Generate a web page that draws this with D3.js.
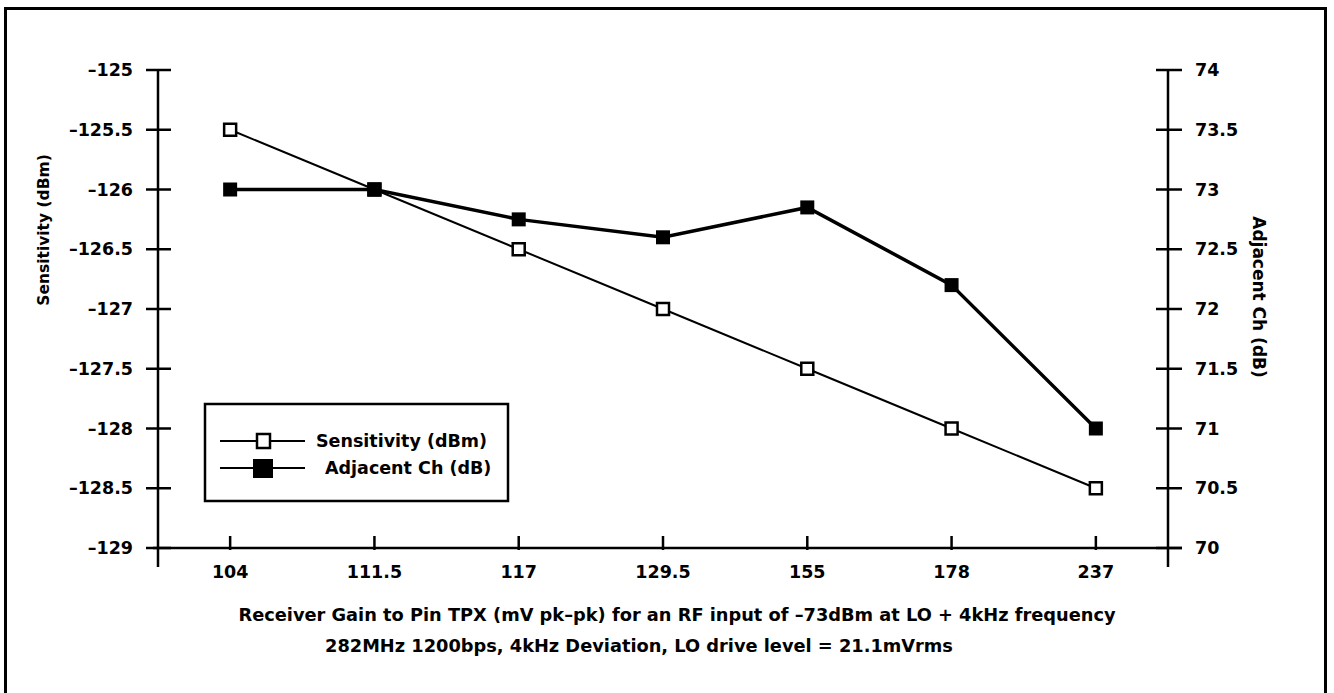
<!DOCTYPE html>
<html>
<head>
<meta charset="utf-8">
<script src="https://cdn.jsdelivr.net/npm/d3@7"></script>
<style>
  body { margin: 0; background: #fff; }
  text { font-family: "DejaVu Sans", "Liberation Sans", Arial, sans-serif; font-weight: bold; fill: #000; }
</style>
</head>
<body>
<script>
var width = 1334,
    height = 693;

// data
var gains = ["104", "111.5", "117", "129.5", "155", "178", "237"];
var sensitivity = [-125.5, -126, -126.5, -127, -127.5, -128, -128.5];
var adjacentCh = [73, 73, 72.75, 72.6, 72.85, 72.2, 71];
var leftTicks = [-129, -128.5, -128, -127.5, -127, -126.5, -126, -125.5, -125];
var rightTicks = [70, 70.5, 71, 71.5, 72, 72.5, 73, 73.5, 74];

var x0 = 158, x1 = 1168, yTop = 70, yBot = 548;

var svg = d3.select("body").append("svg")
    .attr("width", width)
    .attr("height", height);

// frame (bottom edge runs off the page)
svg.append("rect")
    .attr("x", 5.5).attr("y", 8.5)
    .attr("width", 1320).attr("height", 700)
    .attr("fill", "none").attr("stroke", "#000").attr("stroke-width", 3);

var x = d3.scalePoint().domain(gains).range([x0, x1]).padding(0.5);
var yL = d3.scaleLinear().domain([-129, -125]).range([yBot, yTop]);
var yR = d3.scaleLinear().domain([70, 74]).range([yBot, yTop]);

function fmt(d) { return d < 0 ? "\u2013" + Math.abs(d) : String(d); }

// left axis
var gl = svg.append("g").attr("transform", "translate(" + x0 + ",0)");
gl.append("line").attr("y1", yTop).attr("y2", yBot + 19)
    .attr("stroke", "#000").attr("stroke-width", 2.5);
gl.selectAll(".t").data(leftTicks).enter().append("line")
    .attr("x1", -12).attr("x2", 13)
    .attr("y1", yL).attr("y2", yL)
    .attr("stroke", "#000").attr("stroke-width", 2.5);
gl.selectAll("text").data(leftTicks).enter().append("text")
    .attr("x", -25).attr("y", function(d) { return yL(d) + 6; })
    .attr("text-anchor", "end")
    .style("font-size", "17.5px")
    .text(fmt);

// right axis
var gr = svg.append("g").attr("transform", "translate(" + x1 + ",0)");
gr.append("line").attr("y1", yTop).attr("y2", yBot + 19)
    .attr("stroke", "#000").attr("stroke-width", 2.5);
gr.selectAll(".t").data(rightTicks).enter().append("line")
    .attr("x1", -12).attr("x2", 14)
    .attr("y1", yR).attr("y2", yR)
    .attr("stroke", "#000").attr("stroke-width", 2.5);
gr.selectAll("text").data(rightTicks).enter().append("text")
    .attr("x", 27).attr("y", function(d) { return yR(d) + 6; })
    .style("font-size", "17.5px")
    .text(fmt);

// x axis
var gx = svg.append("g").attr("transform", "translate(0," + yBot + ")");
gx.append("line").attr("x1", x0 - 5).attr("x2", x1 + 14)
    .attr("stroke", "#000").attr("stroke-width", 2.5);
gx.selectAll(".t").data(gains).enter().append("line")
    .attr("x1", x).attr("x2", x)
    .attr("y1", -12).attr("y2", 2)
    .attr("stroke", "#000").attr("stroke-width", 2.5);
gx.selectAll("text").data(gains).enter().append("text")
    .attr("x", x).attr("y", 30)
    .attr("text-anchor", "middle")
    .style("font-size", "17.5px")
    .text(function(d) { return d; });

// axis titles
svg.append("text")
    .attr("transform", "translate(49,230) rotate(-90)")
    .attr("text-anchor", "middle")
    .style("font-size", "15.5px")
    .text("Sensitivity (dBm)");
svg.append("text")
    .attr("transform", "translate(1253,297) rotate(90)")
    .attr("text-anchor", "middle")
    .style("font-size", "17px")
    .text("Adjacent Ch (dB)");
svg.append("text")
    .attr("x", 677).attr("y", 621)
    .attr("text-anchor", "middle")
    .style("font-size", "17.8px")
    .text("Receiver Gain to Pin TPX (mV pk\u2013pk) for an RF input of \u201373dBm at LO + 4kHz frequency");
svg.append("text")
    .attr("x", 639).attr("y", 652)
    .attr("text-anchor", "middle")
    .style("font-size", "17.8px")
    .text("282MHz 1200bps, 4kHz Deviation, LO drive level = 21.1mVrms");

// series
var sens = gains.map(function(g, i) { return [x(g), yL(sensitivity[i])]; });
var adj = gains.map(function(g, i) { return [x(g), yR(adjacentCh[i])]; });

svg.append("path").attr("d", d3.line()(sens))
    .attr("fill", "none").attr("stroke", "#000").attr("stroke-width", 2);
svg.append("path").attr("d", d3.line()(adj))
    .attr("fill", "none").attr("stroke", "#000").attr("stroke-width", 3.5);

svg.selectAll(".sm").data(sens).enter().append("rect")
    .attr("x", function(d) { return d[0] - 6; })
    .attr("y", function(d) { return d[1] - 6; })
    .attr("width", 12).attr("height", 12)
    .attr("fill", "#fff").attr("stroke", "#000").attr("stroke-width", 2.5);
svg.selectAll(".am").data(adj).enter().append("rect")
    .attr("x", function(d) { return d[0] - 7; })
    .attr("y", function(d) { return d[1] - 7; })
    .attr("width", 14).attr("height", 14)
    .attr("fill", "#000");

// legend
var lg = svg.append("g");
lg.append("rect")
    .attr("x", 205).attr("y", 404).attr("width", 303).attr("height", 97)
    .attr("fill", "#fff").attr("stroke", "#000").attr("stroke-width", 2.5);
lg.append("line").attr("x1", 220).attr("x2", 305).attr("y1", 441).attr("y2", 441)
    .attr("stroke", "#000").attr("stroke-width", 2);
lg.append("rect").attr("x", 257).attr("y", 434).attr("width", 13).attr("height", 14)
    .attr("fill", "#fff").attr("stroke", "#000").attr("stroke-width", 2.5);
lg.append("text").attr("x", 316).attr("y", 447)
    .style("font-size", "17.5px").text("Sensitivity (dBm)");
lg.append("line").attr("x1", 220).attr("x2", 305).attr("y1", 468).attr("y2", 468)
    .attr("stroke", "#000").attr("stroke-width", 2);
lg.append("rect").attr("x", 253).attr("y", 459).attr("width", 20).attr("height", 19)
    .attr("fill", "#000");
lg.append("text").attr("x", 325).attr("y", 474)
    .style("font-size", "17.5px").text("Adjacent Ch (dB)");
</script>
</body>
</html>
